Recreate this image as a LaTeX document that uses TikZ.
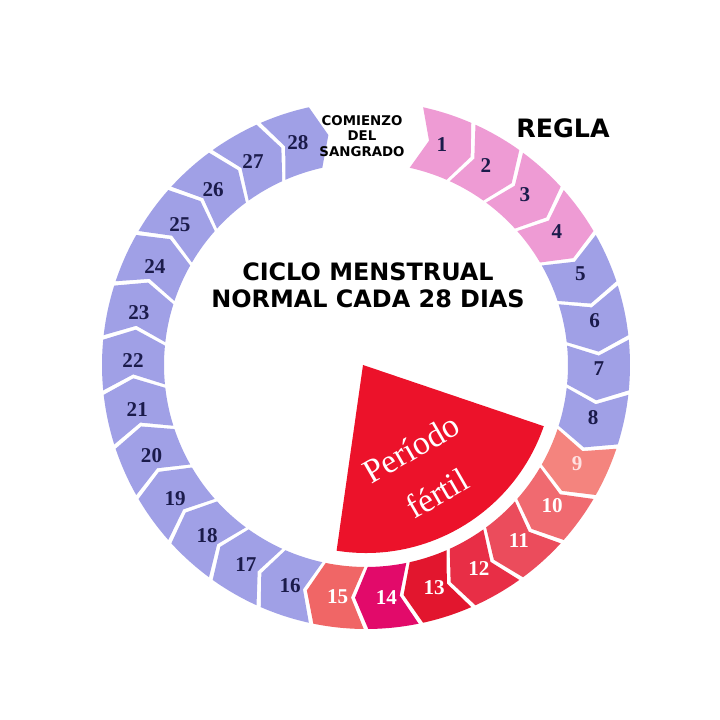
\documentclass[tikz,border=0pt]{standalone}
\usepackage{fontspec}
\setmainfont{Liberation Serif}
\newfontfamily\comicfont{DejaVu Sans}
\usepackage{tikz}
\usetikzlibrary{positioning}
\definecolor{lavender}{RGB}{160,160,230}
\definecolor{regla}{RGB}{238,155,212}
\definecolor{fnueve}{RGB}{244,132,126}
\definecolor{fdiez}{RGB}{240,106,112}
\definecolor{fonce}{RGB}{235,76,92}
\definecolor{fdoce}{RGB}{232,46,70}
\definecolor{ftrece}{RGB}{226,22,46}
\definecolor{fcatorce}{RGB}{226,10,106}
\definecolor{fquince}{RGB}{240,102,102}
\definecolor{fertil}{RGB}{236,18,42}
\definecolor{navy}{RGB}{27,27,75}
\definecolor{numpink}{RGB}{255,225,225}

\begin{document}
\begin{tikzpicture}
		[   x=0.025cm,y=0.025cm,
			daynum/.style={font=\fontsize{15}{15}\selectfont\bfseries,inner sep=0pt},
			bigtitle/.style={font=\comicfont\bfseries\fontsize{17}{19}\selectfont,align=center,inner sep=0pt},
		]
		\tikzset{smalltitle/.style={font=\comicfont\bfseries\fontsize{9.5}{11}\selectfont,align=center,inner sep=0pt}}
		\useasboundingbox[fill=white] (-366,-355) rectangle (354,365);
		\coordinate (c) at (-3,0);
		
		% sector
		\fill[fertil] (c) -- (-99:188) arc[start angle=-99,end angle=-19,radius=188] -- cycle;
		\node[font=\fontsize{24}{37}\selectfont,text=white,rotate=30,align=center,inner sep=0pt] (fertil) at (58,-106) {Período\\fértil};
		
		% days
		\foreach \k/\c/\t in {1/regla/navy,2/regla/navy,3/regla/navy,4/regla/navy,
			5/lavender/navy,6/lavender/navy,7/lavender/navy,8/lavender/navy,
			9/fnueve/numpink,10/fdiez/white,11/fonce/white,12/fdoce/white,
			13/ftrece/white,14/fcatorce/white,15/fquince/white,
			16/lavender/navy,17/lavender/navy,18/lavender/navy,19/lavender/navy,
			20/lavender/navy,21/lavender/navy,22/lavender/navy,23/lavender/navy,
			24/lavender/navy,25/lavender/navy,26/lavender/navy,27/lavender/navy,28/lavender/navy}
		{
			\pgfmathsetmacro\a{72-12*(\k-1)}
			\fill[\c] ({\a+5.5}:264) arc[start angle=\a+5.5,end angle=\a-5.5,radius=264]
				-- ({\a-8.7}:233) -- ({\a-5.5}:202)
				arc[start angle=\a-5.5,end angle=\a+5.5,radius=202]
				-- ({\a+2.3}:233) -- cycle;
			\node[daynum,text=\t] (d\k) at ({\a-1}:233) {\k};
		}
		
		\node[bigtitle] (ciclo) at (2,80) {CICLO MENSTRUAL\\NORMAL CADA 28 DIAS};
		\node[font=\comicfont\bfseries\fontsize{18}{18}\selectfont,inner sep=0pt] (regla) at (197,237) {REGLA};
		\node[smalltitle] (comienzo) at (-4,229) {COMIENZO\\DEL\\SANGRADO};
\end{tikzpicture}
\end{document}
